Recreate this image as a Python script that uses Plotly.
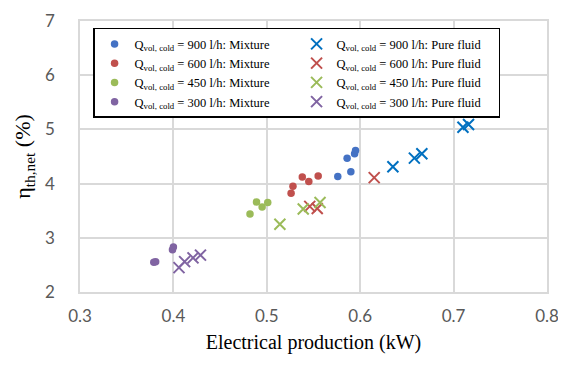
import plotly.graph_objects as go

# Mixture data
mix900_x = [0.576, 0.586, 0.590, 0.594, 0.595]
mix900_y = [4.13, 4.47, 4.22, 4.55, 4.61]
mix600_x = [0.526, 0.528, 0.538, 0.545, 0.555]
mix600_y = [3.82, 3.95, 4.12, 4.04, 4.14]
mix450_x = [0.482, 0.489, 0.495, 0.501]
mix450_y = [3.44, 3.66, 3.57, 3.65]
mix300_x = [0.379, 0.381, 0.399, 0.400]
mix300_y = [2.55, 2.56, 2.78, 2.83]

# Pure fluid data
pure900_x = [0.635, 0.658, 0.666, 0.710, 0.716]
pure900_y = [4.31, 4.47, 4.55, 5.04, 5.09]
pure600_x = [0.546, 0.554, 0.615]
pure600_y = [3.58, 3.54, 4.11]
pure450_x = [0.514, 0.539, 0.557]
pure450_y = [3.25, 3.53, 3.65]
pure300_x = [0.406, 0.412, 0.421, 0.429]
pure300_y = [2.45, 2.56, 2.63, 2.68]

flows = ["900", "600", "450", "300"]
mix_color = ["#4472C4", "#C0504D", "#9BBB59", "#8064A2"]
pure_color = ["#0070C0", "#C0504D", "#9BBB59", "#8064A2"]
mix_data = [(mix900_x, mix900_y), (mix600_x, mix600_y), (mix450_x, mix450_y), (mix300_x, mix300_y)]
pure_data = [(pure900_x, pure900_y), (pure600_x, pure600_y), (pure450_x, pure450_y), (pure300_x, pure300_y)]

fig = go.Figure()
for i, f in enumerate(flows):
    fig.add_trace(go.Scatter(
        x=mix_data[i][0], y=mix_data[i][1], mode="markers",
        name=f"Q<sub>vol, cold</sub> = {f} l/h: Mixture",
        marker=dict(symbol="circle", size=7.5, color=mix_color[i]),
    ))
    fig.add_trace(go.Scatter(
        x=pure_data[i][0], y=pure_data[i][1], mode="markers",
        name=f"Q<sub>vol, cold</sub> = {f} l/h: Pure fluid",
        marker=dict(symbol="x-thin-open", size=11, color=pure_color[i],
                    line=dict(width=2, color=pure_color[i])),
    ))

tickfont = dict(family="Lato, Open Sans, sans-serif", size=17, color="#595959")
serif = "Liberation Serif, Times New Roman, serif"

fig.update_layout(
    width=558, height=359,
    margin=dict(l=72, r=19, t=13, b=75),
    paper_bgcolor="white", plot_bgcolor="white",
    showlegend=True,
    legend=dict(
        orientation="h", x=0.028, y=0.975, xanchor="left", yanchor="top",
        entrywidth=157, entrywidthmode="pixels", itemwidth=30,
        bgcolor="white", bordercolor="black", borderwidth=1.5,
        font=dict(family=serif, size=12.5, color="black"),
        tracegroupgap=0,
    ),
    xaxis=dict(
        range=[0.3, 0.8], tickvals=[0.3, 0.4, 0.5, 0.6, 0.7, 0.8],
        ticktext=["0.3", "0.4", "0.5", "0.6", "0.7", "0.8"],
        showgrid=True, gridcolor="#d9d9d9", gridwidth=1.5,
        showline=True, linecolor="#d9d9d9", linewidth=1.5, mirror=True,
        zeroline=False, tickfont=tickfont, ticks="", ticklen=0,
        automargin=False, ticklabelstandoff=8, ticklabeloverflow="allow",
        title=dict(text="Electrical production (kW)", font=dict(family=serif, size=20, color="black"), standoff=10),
    ),
    yaxis=dict(
        range=[2, 7], tickvals=[2, 3, 4, 5, 6, 7],
        showgrid=True, gridcolor="#d9d9d9", gridwidth=1.5,
        showline=True, linecolor="#d9d9d9", linewidth=1.5, mirror=True,
        zeroline=False, tickfont=tickfont, ticks="", ticklen=0,
        ticklabelstandoff=20, automargin=False, ticklabeloverflow="allow",
        title=dict(text="η<sub>th,net</sub> (%)", font=dict(family=serif, size=22, color="black"), standoff=8),
    ),
)

fig.write_html("out.html")
